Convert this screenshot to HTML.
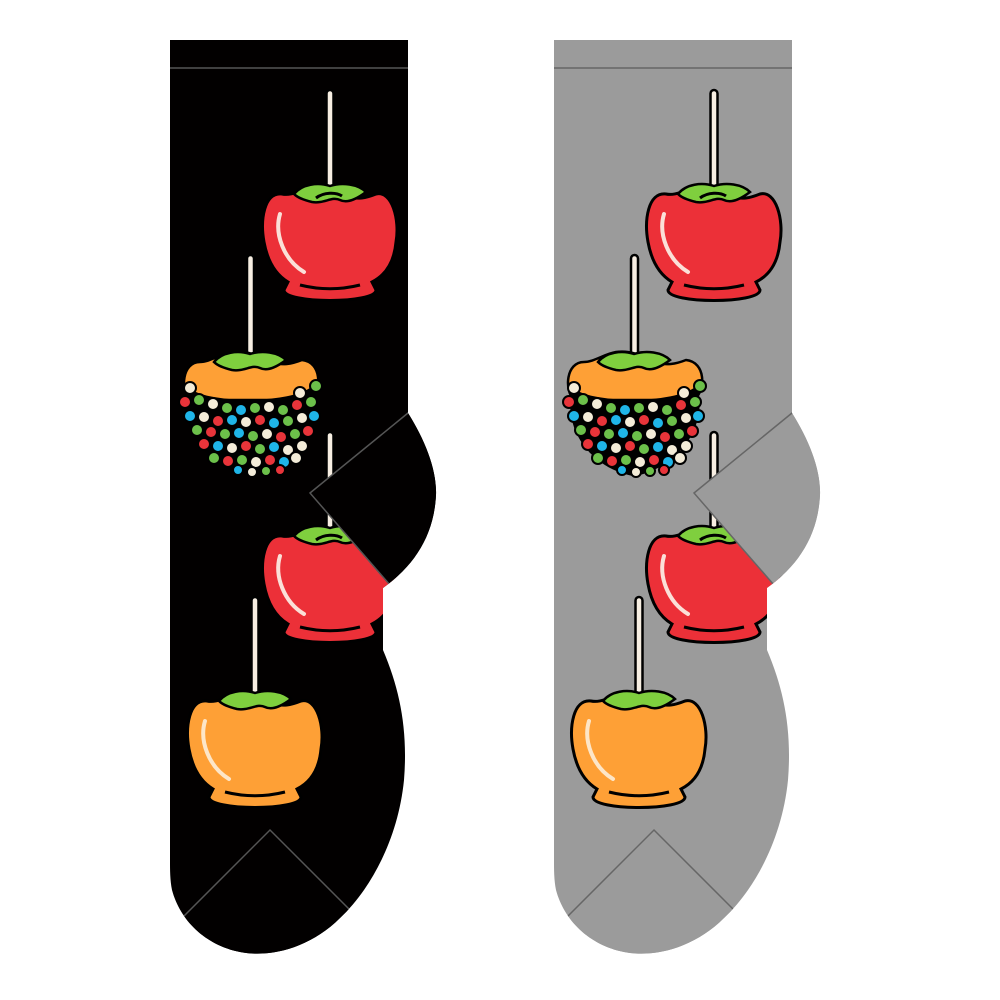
<!DOCTYPE html>
<html><head><meta charset="utf-8"><style>html,body{margin:0;padding:0;background:#fff}svg{display:block}</style></head>
<body>
<svg width="1000" height="1000" viewBox="0 0 1000 1000" xmlns="http://www.w3.org/2000/svg">
<defs>
<path id="sock" d="M170,40 L408,40 L408,413 C425,440 437,470 436,495 C434,535 415,565 383,588 L383,650 C400,690 408,730 404,780 C398,840 370,890 340,918 C310,948 270,958 240,952 C205,945 180,920 172,890 C170,880 170,870 170,860 Z"/>
<clipPath id="sc"><use href="#sock"/></clipPath>
<g id="red">
<rect x="-3.5" y="-100" width="7" height="105" rx="3.5" fill="#f7eee2" stroke="#000" stroke-width="2.5"/>
<path d="M-48,4 C-66,2 -70,30 -66,52 C-62,74 -52,86 -42,92 L-46,100 C-46,114 46,114 46,100 L42,92 C54,86 64,74 66,52 C70,30 62,0 46,4 C36,8 28,10 16,6 C4,2 -4,-4 -18,-2 C-30,0 -38,6 -48,4 Z" fill="#ec3038" stroke="#000" stroke-width="3"/>
<path d="M-36,4 C-28,-6 -12,-8 0,-4 C12,-8 28,-6 36,2 C28,8 18,14 10,10 C2,6 -6,14 -18,12 C-26,10 -32,8 -36,4 Z" fill="#7fcf3e" stroke="#000" stroke-width="2.5"/>
<path d="M-14,8 C-6,2 6,2 12,6" stroke="#000" stroke-width="3" fill="none"/>
<path d="M-50,24 C-56,44 -46,70 -26,82" stroke="#fbe0d8" stroke-width="4" fill="none" stroke-linecap="round"/>
<path d="M-30,95 C-10,100 10,100 30,95" stroke="#000" stroke-width="3" fill="none"/>
</g>
<g id="car">
<rect x="-3.5" y="-100" width="7" height="105" rx="3.5" fill="#f7eee2" stroke="#000" stroke-width="2.5"/>
<path d="M-48,4 C-66,2 -70,30 -66,52 C-62,74 -52,86 -42,92 L-46,100 C-46,114 46,114 46,100 L42,92 C54,86 64,74 66,52 C70,30 62,0 46,4 C36,8 28,10 16,6 C4,2 -4,-4 -18,-2 C-30,0 -38,6 -48,4 Z" fill="#fea036" stroke="#000" stroke-width="3"/>
<path d="M-36,4 C-28,-6 -12,-8 0,-4 C12,-8 28,-6 36,2 C28,8 18,14 10,10 C2,6 -6,14 -18,12 C-26,10 -32,8 -36,4 Z" fill="#7fcf3e" stroke="#000" stroke-width="2.5"/>
<path d="M-50,24 C-56,44 -46,70 -26,82" stroke="#fde6c8" stroke-width="4" fill="none" stroke-linecap="round"/>
<path d="M-30,95 C-10,100 10,100 30,95" stroke="#000" stroke-width="3" fill="none"/>
</g>
<g id="spr" stroke="#000" stroke-width="2.5">
<rect x="247" y="255" width="7" height="105" rx="3.5" fill="#f7eee2"/>
<path d="M200,362 C182,362 180,390 190,400 L310,400 C322,390 322,362 302,360 C292,364 282,366 270,362 C258,356 248,350 232,352 C220,354 210,362 200,362 Z" fill="#fea036"/>
<path d="M214,362 C222,352 238,350 250,354 C262,350 278,352 286,360 C278,366 268,372 260,368 C252,364 244,372 232,370 C224,368 218,366 214,362 Z" fill="#7fcf3e"/>
<path d="M190,390 C180,420 200,465 250,475 C300,465 322,420 312,388 C290,405 210,405 190,390 Z" fill="#000"/>
<g stroke-width="2">
<circle cx="190" cy="388" r="6" fill="#f4ecd8"/><circle cx="300" cy="393" r="6" fill="#f4ecd8"/><circle cx="316" cy="386" r="6" fill="#6cc04a"/>
<circle cx="185" cy="402" r="6" fill="#e8343a"/><circle cx="199" cy="400" r="6" fill="#6cc04a"/><circle cx="213" cy="404" r="6" fill="#f4ecd8"/><circle cx="227" cy="408" r="6" fill="#6cc04a"/><circle cx="241" cy="410" r="6" fill="#1fb5e8"/><circle cx="255" cy="408" r="6" fill="#6cc04a"/><circle cx="269" cy="407" r="6" fill="#f4ecd8"/><circle cx="283" cy="410" r="6" fill="#6cc04a"/><circle cx="297" cy="405" r="6" fill="#e8343a"/><circle cx="311" cy="402" r="6" fill="#6cc04a"/>
<circle cx="190" cy="416" r="6" fill="#1fb5e8"/><circle cx="204" cy="417" r="6" fill="#f4ecd8"/><circle cx="218" cy="421" r="6" fill="#e8343a"/><circle cx="232" cy="420" r="6" fill="#1fb5e8"/><circle cx="246" cy="422" r="6" fill="#f4ecd8"/><circle cx="260" cy="420" r="6" fill="#e8343a"/><circle cx="274" cy="423" r="6" fill="#1fb5e8"/><circle cx="288" cy="421" r="6" fill="#6cc04a"/><circle cx="302" cy="418" r="6" fill="#f4ecd8"/><circle cx="314" cy="416" r="6" fill="#1fb5e8"/>
<circle cx="197" cy="430" r="6" fill="#6cc04a"/><circle cx="211" cy="432" r="6" fill="#e8343a"/><circle cx="225" cy="434" r="6" fill="#6cc04a"/><circle cx="239" cy="433" r="6" fill="#1fb5e8"/><circle cx="253" cy="436" r="6" fill="#6cc04a"/><circle cx="267" cy="434" r="6" fill="#f4ecd8"/><circle cx="281" cy="437" r="6" fill="#e8343a"/><circle cx="295" cy="434" r="6" fill="#6cc04a"/><circle cx="308" cy="431" r="6" fill="#e8343a"/>
<circle cx="204" cy="444" r="6" fill="#e8343a"/><circle cx="218" cy="446" r="6" fill="#1fb5e8"/><circle cx="232" cy="448" r="6" fill="#f4ecd8"/><circle cx="246" cy="446" r="6" fill="#e8343a"/><circle cx="260" cy="449" r="6" fill="#6cc04a"/><circle cx="274" cy="447" r="6" fill="#1fb5e8"/><circle cx="288" cy="450" r="6" fill="#f4ecd8"/><circle cx="302" cy="446" r="6" fill="#f4ecd8"/>
<circle cx="214" cy="458" r="6" fill="#6cc04a"/><circle cx="228" cy="461" r="6" fill="#e8343a"/><circle cx="242" cy="460" r="6" fill="#6cc04a"/><circle cx="256" cy="462" r="6" fill="#f4ecd8"/><circle cx="270" cy="460" r="6" fill="#e8343a"/><circle cx="284" cy="462" r="6" fill="#1fb5e8"/><circle cx="296" cy="458" r="6" fill="#f4ecd8"/>
<circle cx="238" cy="470" r="5" fill="#1fb5e8"/><circle cx="252" cy="472" r="5" fill="#f4ecd8"/><circle cx="266" cy="471" r="5" fill="#6cc04a"/><circle cx="280" cy="470" r="5" fill="#e8343a"/>
</g>
</g>
<g id="content">
<use href="#red" x="330" y="190"/>
<use href="#spr"/>
<use href="#red" x="330" y="532"/>
<use href="#car" x="255" y="697"/>
</g>
</defs>

<!-- left sock -->
<use href="#sock" fill="#020000"/>
<g clip-path="url(#sc)">
<use href="#content"/>
<path d="M408,413 L310,493 L390,585 L440,585 L440,413 Z" fill="#020000" stroke="#555" stroke-width="1.5"/>
<path d="M180,920 L270,830 L350,910 L350,970 L170,970 Z" fill="#020000" stroke="#555" stroke-width="1.5"/>
<line x1="170" y1="68" x2="408" y2="68" stroke="#555" stroke-width="1.5"/>
</g>

<!-- right sock -->
<g transform="translate(384,0)">
<use href="#sock" fill="#9b9b9b"/>
<g clip-path="url(#sc)">
<use href="#content"/>
<path d="M408,413 L310,493 L390,585 L440,585 L440,413 Z" fill="#9b9b9b" stroke="#666" stroke-width="1.5"/>
<path d="M180,920 L270,830 L350,910 L350,970 L170,970 Z" fill="#9b9b9b" stroke="#666" stroke-width="1.5"/>
<line x1="170" y1="68" x2="408" y2="68" stroke="#666" stroke-width="1.5"/>
</g>
</g>
</svg>
</body></html>
